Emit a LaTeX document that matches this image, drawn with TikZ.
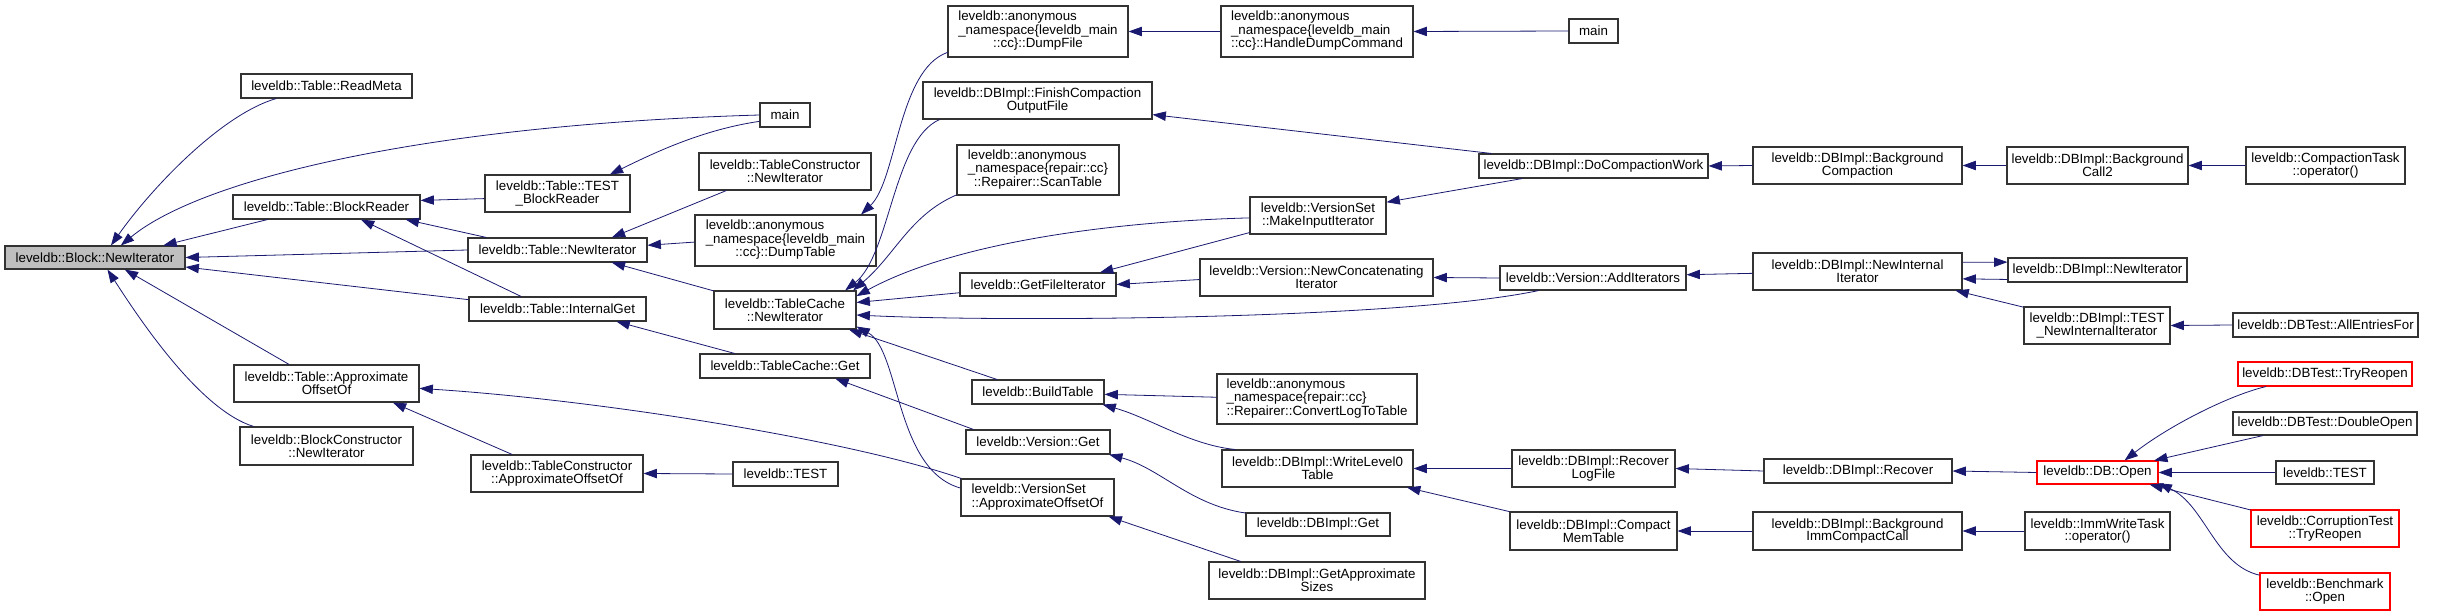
\documentclass[tikz,border=0pt]{standalone}
\usepackage{fontspec}
\setmainfont{Liberation Sans}
\usetikzlibrary{arrows.meta}
\definecolor{dxnavy}{HTML}{191970}
\newcommand{\leftlines}[1]{\begin{tabular}{@{}l@{}}#1\end{tabular}}
\newcommand{\midline}[1]{\multicolumn{1}{@{}c@{}}{#1}}

\begin{document}
\begin{tikzpicture}[
    x=0.75pt, y=-0.75pt,
    fn/.style={rectangle, draw=black!80, line width=0.8pt, inner sep=0pt, align=center, font=\fontsize{10}{9.6}\selectfont},
    focus/.style={fn, fill=black!25},
    trunc/.style={fn, draw=red},
    sz/.style 2 args={minimum width=#1*0.75pt, minimum height=#2*0.75pt},
    calls/.style={draw=dxnavy, line width=0.6pt, {Triangle[length=10pt, width=7pt]}-}
]
    \useasboundingbox (0,0) rectangle (2459,616);

    % column 0 and 1
    \node[focus, sz={180}{23}] (blockNewIter) at (95,257.5) {leveldb::Block::NewIterator};
    \node[fn, sz={171}{24}] (readMeta) at (326.5,86) {leveldb::Table::ReadMeta};
    \node[fn, sz={187}{24}] (blockReader) at (326.5,207) {leveldb::Table::BlockReader};
    \node[fn, sz={185}{37}] (tableApprox) at (326.5,383.5) {leveldb::Table::Approximate\\OffsetOf};
    \node[fn, sz={173}{38}] (blockCtorNewIter) at (326.5,446) {leveldb::BlockConstructor\\::NewIterator};

    % column 2
    \node[fn, sz={145}{37}] (testBlockReader) at (557.5,193.5) {leveldb::Table::TEST\\\_BlockReader};
    \node[fn, sz={179}{24}] (tableNewIter) at (557.5,250) {leveldb::Table::NewIterator};
    \node[fn, sz={177}{24}] (internalGet) at (557.5,309) {leveldb::Table::InternalGet};
    \node[fn, sz={172}{37}] (tableCtorApprox) at (557,473.5) {leveldb::TableConstructor\\::ApproximateOffsetOf};

    % column 3
    \node[fn, sz={50}{24}] (mainA) at (785,115) {main};
    \node[fn, sz={172}{37}] (tableCtorNewIter) at (785,171.5) {leveldb::TableConstructor\\::NewIterator};
    \node[fn, sz={181}{51}] (dumpTable) at (785.5,240.5) {\leftlines{leveldb::anonymous\\\_namespace\{leveldb\_main\\\midline{::cc\}::DumpTable}}};
    \node[fn, sz={142}{38}] (tcNewIter) at (785,310) {leveldb::TableCache\\::NewIterator};
    \node[fn, sz={170}{24}] (tcGet) at (785,366) {leveldb::TableCache::Get};
    \node[fn, sz={105}{24}] (testA) at (785.5,474) {leveldb::TEST};

    % column 4
    \node[fn, sz={180}{51}] (dumpFile) at (1038,31.5) {\leftlines{leveldb::anonymous\\\_namespace\{leveldb\_main\\\midline{::cc\}::DumpFile}}};
    \node[fn, sz={229}{37}] (finishCompaction) at (1037.5,100.5) {leveldb::DBImpl::FinishCompaction\\OutputFile};
    \node[fn, sz={162}{50}] (scanTable) at (1038,170) {\leftlines{leveldb::anonymous\\\_namespace\{repair::cc\}\\\midline{::Repairer::ScanTable}}};
    \node[fn, sz={156}{23}] (getFileIter) at (1038,284.5) {leveldb::GetFileIterator};
    \node[fn, sz={132}{24}] (buildTable) at (1038,392) {leveldb::BuildTable};
    \node[fn, sz={144}{24}] (versionGet) at (1038,442) {leveldb::Version::Get};
    \node[fn, sz={153}{37}] (vsApprox) at (1037.5,497.5) {\leftlines{leveldb::VersionSet\\\midline{::ApproximateOffsetOf}}};

    % column 5
    \node[fn, sz={192}{51}] (handleDump) at (1317,31.5) {\leftlines{leveldb::anonymous\\\_namespace\{leveldb\_main\\::cc\}::HandleDumpCommand}};
    \node[fn, sz={136}{37}] (makeInputIter) at (1318,215.5) {leveldb::VersionSet\\::MakeInputIterator};
    \node[fn, sz={233}{37}] (newConcat) at (1316.5,277.5) {leveldb::Version::NewConcatenating\\Iterator};
    \node[fn, sz={200}{50}] (convertLog) at (1317,399) {\leftlines{leveldb::anonymous\\\_namespace\{repair::cc\}\\::Repairer::ConvertLogToTable}};
    \node[fn, sz={191}{37}] (writeLevel0) at (1317.5,468.5) {leveldb::DBImpl::WriteLevel0\\Table};
    \node[fn, sz={144}{23}] (dbGet) at (1318,524.5) {leveldb::DBImpl::Get};
    \node[fn, sz={216}{37}] (getApproxSizes) at (1317,580.5) {leveldb::DBImpl::GetApproximate\\Sizes};

    % column 6
    \node[fn, sz={49}{24}] (mainB) at (1593.5,31) {main};
    \node[fn, sz={229}{24}] (doCompaction) at (1593.5,166) {leveldb::DBImpl::DoCompactionWork};
    \node[fn, sz={186}{24}] (addIters) at (1593,278) {leveldb::Version::AddIterators};
    \node[fn, sz={163}{37}] (recoverLog) at (1593.5,468.5) {leveldb::DBImpl::Recover\\LogFile};
    \node[fn, sz={167}{38}] (compactMem) at (1593.5,531) {leveldb::DBImpl::Compact\\MemTable};

    % column 7
    \node[fn, sz={209}{37}] (bgCompaction) at (1857.5,165.5) {leveldb::DBImpl::Background\\Compaction};
    \node[fn, sz={209}{37}] (newInternalIter) at (1857.5,271.5) {leveldb::DBImpl::NewInternal\\Iterator};
    \node[fn, sz={188}{24}] (recover) at (1858,471) {leveldb::DBImpl::Recover};
    \node[fn, sz={209}{38}] (bgImm) at (1857.5,531) {leveldb::DBImpl::Background\\ImmCompactCall};

    % column 8
    \node[fn, sz={181}{37}] (bgCall2) at (2097.5,165.5) {leveldb::DBImpl::Background\\Call2};
    \node[fn, sz={179}{24}] (dbNewIter) at (2097.5,270) {leveldb::DBImpl::NewIterator};
    \node[fn, sz={146}{37}] (testNewInternal) at (2097,325.5) {leveldb::DBImpl::TEST\\\_NewInternalIterator};
    \node[trunc, sz={121}{23}] (dbOpen) at (2097.5,472.5) {leveldb::DB::Open};
    \node[fn, sz={145}{38}] (immWrite) at (2097.5,531) {leveldb::ImmWriteTask\\::operator()};

    % column 9
    \node[fn, sz={159}{37}] (compactionTask) at (2325.5,165.5) {leveldb::CompactionTask\\::operator()};
    \node[fn, sz={185}{24}] (allEntries) at (2325.5,325) {leveldb::DBTest::AllEntriesFor};
    \node[trunc, sz={174}{24}] (tryReopen) at (2325,374) {leveldb::DBTest::TryReopen};
    \node[fn, sz={184}{23}] (doubleOpen) at (2325,423.5) {leveldb::DBTest::DoubleOpen};
    \node[fn, sz={98}{23}] (testB) at (2325,472.5) {leveldb::TEST};
    \node[trunc, sz={148}{37}] (corruptReopen) at (2325,528.5) {leveldb::CorruptionTest\\::TryReopen};
    \node[trunc, sz={130}{37}] (benchOpen) at (2325,591.5) {leveldb::Benchmark\\::Open};

    % callers of Block::NewIterator
    \draw[calls] (blockNewIter.37) .. controls (150,190) and (220,115) .. (readMeta.194);
    \draw[calls] (blockNewIter.25) .. controls (200,180) and (420,125) .. (mainA.west);
    \draw[calls] (blockNewIter.10) -- (blockReader.192);
    \draw[calls] (blockNewIter.east) -- (tableNewIter.west);
    \draw[calls] (blockNewIter.-6) -- (internalGet.174);
    \draw[calls] (blockNewIter.-22) -- (tableApprox.153);
    \draw[calls] (blockNewIter.-44) .. controls (140,320) and (200,410) .. (blockCtorNewIter.165);

    % table level
    \draw[calls] (blockReader.4) -- (testBlockReader.184);
    \draw[calls] (blockReader.-9) -- (tableNewIter.170);
    \draw[calls] (blockReader.-20) -- (internalGet.161);
    \draw[calls] (testBlockReader.20) .. controls (650,155) and (700,130) .. (mainA.194);
    \draw[calls] (tableNewIter.13) -- (tableCtorNewIter.198);
    \draw[calls] (tableNewIter.3) -- (dumpTable.181);
    \draw[calls] (tableNewIter.-13) -- (tcNewIter.165);
    \draw[calls] (dumpTable.19) .. controls (897,180) and (898,70) .. (dumpFile.193);
    \draw[calls] (internalGet.-12) -- (tcGet.166);
    \draw[calls] (tableApprox.-16) -- (tableCtorApprox.157);
    \draw[calls] (tableApprox.-3) .. controls (600,400) and (850,440) .. (vsApprox.166);
    \draw[calls] (tableCtorApprox.east) -- (testA.west);

    % table cache
    \draw[calls] (tcNewIter.18) .. controls (890,255) and (893,140) .. (finishCompaction.191);
    \draw[calls] (tcNewIter.16) .. controls (895,255) and (910,215) .. (scanTable.197);
    \draw[calls] (tcNewIter.11) .. controls (950,245) and (1100,222) .. (makeInputIter.182);
    \draw[calls] (tcNewIter.6) -- (getFileIter.186);
    \draw[calls] (tcNewIter.-4) .. controls (1000,322) and (1400,320) .. (addIters.193);
    \draw[calls] (tcNewIter.-17) -- (buildTable.163);
    \draw[calls] (tcNewIter.-13) .. controls (900,350) and (895,470) .. (vsApprox.173);
    \draw[calls] (tcGet.-14) -- (versionGet.169);

    % versions and compaction
    \draw[calls] (getFileIter.11) -- (makeInputIter.194);
    \draw[calls] (getFileIter.east) -- (newConcat.181);
    \draw[calls] (newConcat.east) -- (addIters.west);
    \draw[calls] (finishCompaction.-7) -- (doCompaction.173);
    \draw[calls] (makeInputIter.11) -- (doCompaction.190);
    \draw[calls] (doCompaction.east) -- (bgCompaction.west);
    \draw[calls] (bgCompaction.east) -- (bgCall2.west);
    \draw[calls] (bgCall2.east) -- (compactionTask.west);
    \draw[calls] (dumpFile.east) -- (handleDump.west);
    \draw[calls] (handleDump.east) -- (mainB.west);
    \draw[calls] (addIters.2) -- (newInternalIter.181);
    \draw[calls] (newInternalIter.-4) -- (dbNewIter.186);
    \draw[calls] (dbNewIter.175) -- (newInternalIter.5);
    \draw[calls] (newInternalIter.-11) -- (testNewInternal.166);
    \draw[calls] (testNewInternal.east) -- (allEntries.west);

    % build and recovery
    \draw[calls] (buildTable.-2) -- (convertLog.179);
    \draw[calls] (buildTable.-11) .. controls (1150,418) and (1190,445) .. (writeLevel0.167);
    \draw[calls] (versionGet.-10) .. controls (1160,468) and (1190,505) .. (dbGet.171);
    \draw[calls] (vsApprox.-15) -- (getApproxSizes.166);
    \draw[calls] (writeLevel0.east) -- (recoverLog.west);
    \draw[calls] (writeLevel0.-12) -- (compactMem.167);
    \draw[calls] (recoverLog.east) -- (recover.west);
    \draw[calls] (compactMem.east) -- (bgImm.west);
    \draw[calls] (bgImm.east) -- (immWrite.west);
    \draw[calls] (recover.east) -- (dbOpen.west);

    % DB::Open callers
    \draw[calls] (dbOpen.24) .. controls (2170,425) and (2230,395) .. (tryReopen.192);
    \draw[calls] (dbOpen.12) -- (doubleOpen.191);
    \draw[calls] (dbOpen.east) -- (testB.west);
    \draw[calls] (dbOpen.-13) -- (corruptReopen.166);
    \draw[calls] (dbOpen.-10) .. controls (2205,505) and (2215,565) .. (benchOpen.166);
\end{tikzpicture}
\end{document}
